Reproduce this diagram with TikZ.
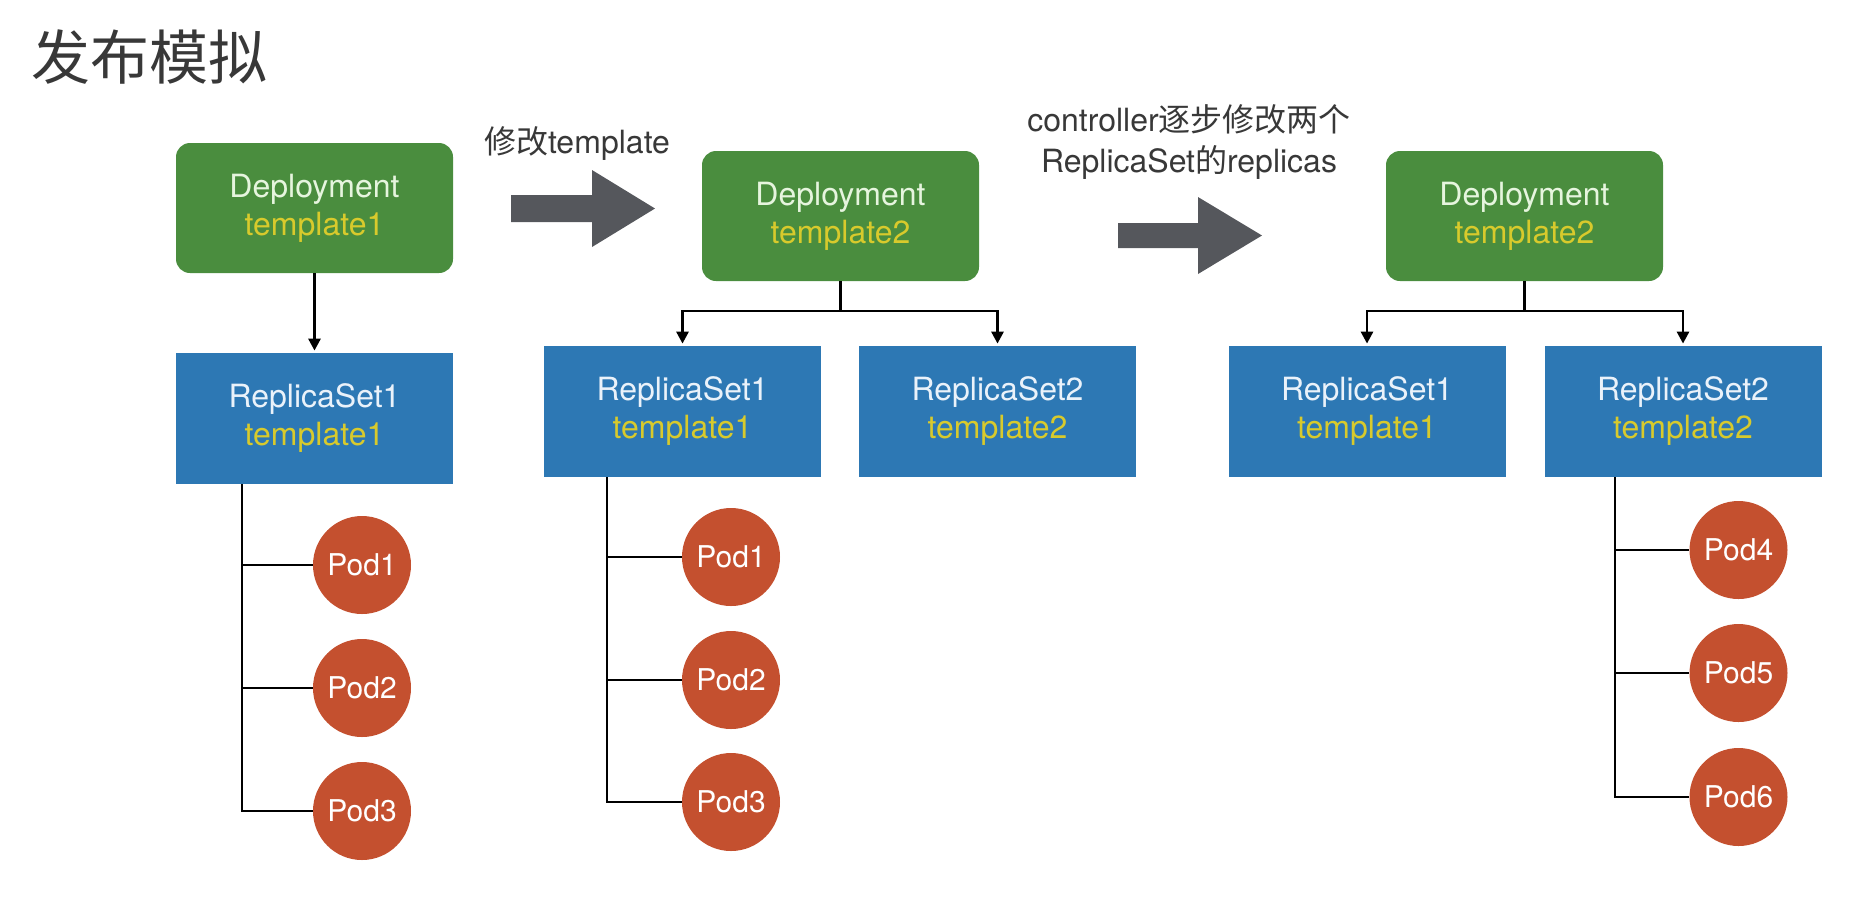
\documentclass[tikz,border=0pt]{standalone}
\usepackage{fontspec}
\setmainfont{TeX Gyre Heros}
\newfontfamily\cjk{Noto Sans CJK SC}
\usetikzlibrary{arrows.meta}

\definecolor{depgreen}{HTML}{4A8D3E}
\definecolor{depwhite}{HTML}{E6F5DE}
\definecolor{rsblue}{HTML}{2D78B4}
\definecolor{rswhite}{HTML}{EAF2FA}
\definecolor{podred}{HTML}{C4502F}
\definecolor{tmplyellow}{HTML}{D8CA2C}
\definecolor{arrowgray}{HTML}{55575C}
\definecolor{inkgray}{HTML}{383838}

\begin{document}
\begin{tikzpicture}[x=0.5pt,y=-0.5pt,
  every node/.style={inner sep=0pt},
  boxtext/.style={align=center, font=\fontsize{16}{19}\selectfont},
  depbox/.style={boxtext, fill=depgreen, rounded corners=7pt,
    minimum width=138.5pt, minimum height=65pt, text=depwhite},
  rsbox/.style={boxtext, fill=rsblue,
    minimum width=138.5pt, minimum height=65.5pt, text=rswhite},
  pod/.style={circle, fill=podred, minimum size=49pt, text=white,
    font=\fontsize{15}{18}\selectfont},
  link/.style={line width=1.4pt, black},
  feed/.style={link, -{Triangle[length=6pt,width=6pt]}, shorten >=1pt},
  bigarrow/.style={fill=arrowgray},
  caption/.style={text=inkgray, align=center, font=\fontsize{16}{20.5}\selectfont}
]
\path[use as bounding box] (0,0) rectangle (1852,918);

% heading
\node[anchor=west, text=inkgray, font=\fontsize{29.5}{32}\selectfont\cjk] (title) at (31,57) {发布模拟};

% ---- stage 1 ----
\node[depbox] (dep1) at (314.5,208) {Deployment\\\textcolor{tmplyellow}{template1}};
\node[rsbox] (rs1a) at (314.5,418.5) {ReplicaSet1\\\textcolor{tmplyellow}{template1}};
\node[pod] (p1a) at (362,565) {Pod1};
\node[pod] (p2a) at (362,688) {Pod2};
\node[pod] (p3a) at (362,811) {Pod3};

\draw[feed] (dep1.south) -- (rs1a.north);
\coordinate (k1) at (rs1a.south -| 242,0);
\draw[link] (k1) |- (p3a.west);
\foreach \p in {p1a,p2a} \draw[link] (k1 |- \p.west) -- (\p.west);

% transition 1
\node[caption] (cap1) at (577,144) {{\cjk 修改}template};
\fill[bigarrow] (511,195) -- (592,195) -- (592,170) -- (655,208.5)
  -- (592,247) -- (592,222) -- (511,222) -- cycle;

% ---- stage 2 ----
\node[depbox] (dep2) at (840.5,216) {Deployment\\\textcolor{tmplyellow}{template2}};
\node[rsbox] (rs2a) at (682.5,411.5) {ReplicaSet1\\\textcolor{tmplyellow}{template1}};
\node[rsbox] (rs2b) at (997.5,411.5) {ReplicaSet2\\\textcolor{tmplyellow}{template2}};
\node[pod] (p1b) at (731,557) {Pod1};
\node[pod] (p2b) at (731,680) {Pod2};
\node[pod] (p3b) at (731,802) {Pod3};

\coordinate (j2) at (dep2.south |- 0,311);
\draw[link] (dep2.south) -- (j2);
\draw[feed] (j2) -| (rs2a.north);
\draw[feed] (j2) -| (rs2b.north);
\coordinate (k2) at (rs2a.south -| 607,0);
\draw[link] (k2) |- (p3b.west);
\foreach \p in {p1b,p2b} \draw[link] (k2 |- \p.west) -- (\p.west);

% transition 2
\node[caption] (cap2) at (1189,142) {controller{\cjk 逐步修改两个}\\ReplicaSet{\cjk 的}replicas};
\fill[bigarrow] (1118,223) -- (1198,223) -- (1198,197) -- (1262,235.5)
  -- (1198,274) -- (1198,248) -- (1118,248) -- cycle;

% ---- stage 3 ----
\node[depbox] (dep3) at (1524.5,216) {Deployment\\\textcolor{tmplyellow}{template2}};
\node[rsbox] (rs3a) at (1367,411.5) {ReplicaSet1\\\textcolor{tmplyellow}{template1}};
\node[rsbox] (rs3b) at (1683,411.5) {ReplicaSet2\\\textcolor{tmplyellow}{template2}};
\node[pod] (p4c) at (1738.5,550) {Pod4};
\node[pod] (p5c) at (1738.5,673) {Pod5};
\node[pod] (p6c) at (1738.5,797) {Pod6};

\coordinate (j3) at (dep3.south |- 0,311);
\draw[link] (dep3.south) -- (j3);
\draw[feed] (j3) -| (rs3a.north);
\draw[feed] (j3) -| (rs3b.north);
\coordinate (k3) at (rs3b.south -| 1615,0);
\draw[link] (k3) |- (p6c.west);
\foreach \p in {p4c,p5c} \draw[link] (k3 |- \p.west) -- (\p.west);
\end{tikzpicture}
\end{document}
